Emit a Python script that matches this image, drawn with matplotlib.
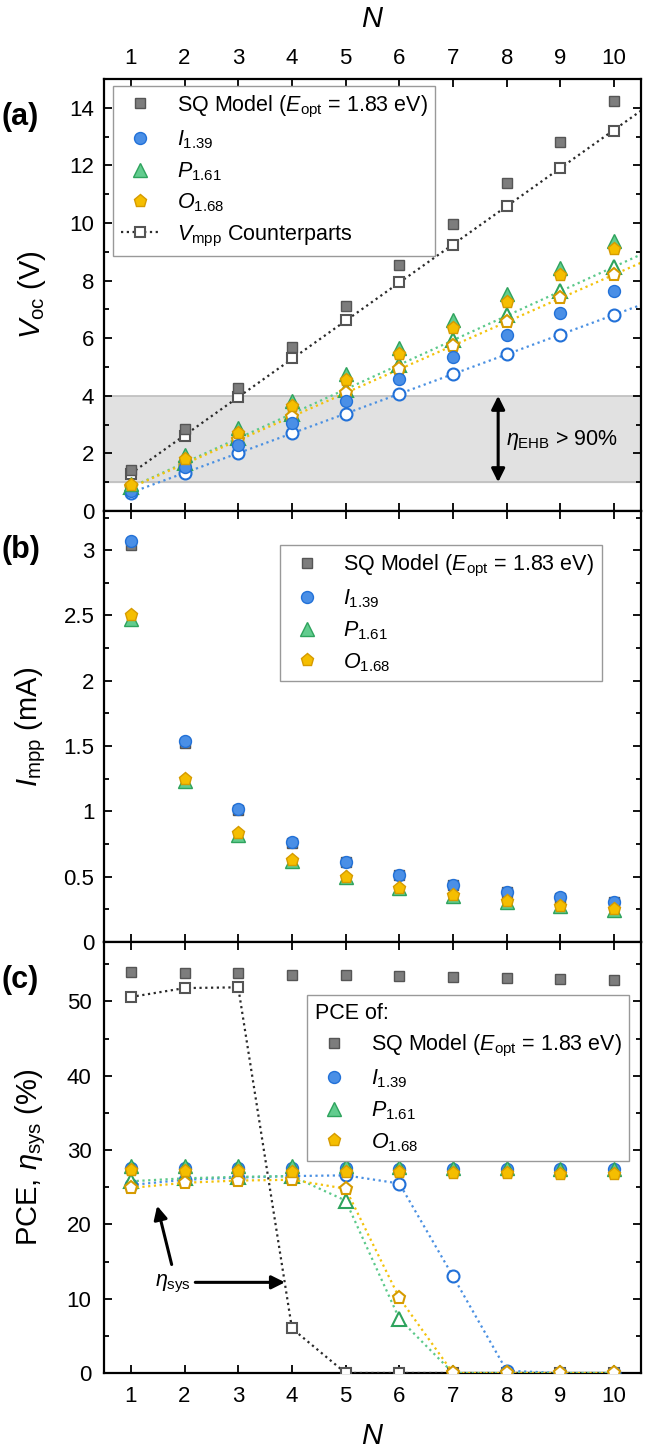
import matplotlib
matplotlib.use('Agg')
import matplotlib.pyplot as plt
from matplotlib.lines import Line2D
from matplotlib.ticker import MultipleLocator, FuncFormatter
import numpy as np

plt.rcParams['font.family'] = ['Liberation Sans', 'DejaVu Sans']
plt.rcParams['mathtext.fontset'] = 'custom'
plt.rcParams['mathtext.rm'] = 'Liberation Sans'
plt.rcParams['mathtext.it'] = 'Liberation Sans:italic'
plt.rcParams['mathtext.bf'] = 'Liberation Sans:bold'

# number of cells
N = [1, 2, 3, 4, 5, 6, 7, 8, 9, 10]

# (a) open-circuit voltage and V_mpp
voc_sq = [1.42, 2.84, 4.27, 5.70, 7.12, 8.55, 9.97, 11.39, 12.80, 14.22]
vmpp_sq = [1.27, 2.60, 3.97, 5.31, 6.63, 7.95, 9.25, 10.58, 11.92, 13.20]
voc_i = [0.69, 1.54, 2.30, 3.04, 3.81, 4.58, 5.35, 6.12, 6.89, 7.65]
vmpp_i = [0.62, 1.33, 2.02, 2.70, 3.38, 4.07, 4.76, 5.44, 6.12, 6.81]
voc_p = [0.95, 1.93, 2.88, 3.81, 4.74, 5.67, 6.62, 7.53, 8.45, 9.38]
vmpp_p = [0.84, 1.68, 2.52, 3.37, 4.21, 5.07, 5.93, 6.79, 7.64, 8.48]
voc_o = [0.92, 1.80, 2.71, 3.63, 4.54, 5.46, 6.35, 7.27, 8.20, 9.10]
vmpp_o = [0.82, 1.63, 2.45, 3.28, 4.09, 4.94, 5.73, 6.57, 7.39, 8.21]

# (b) current at maximum power point (mA)
impp_sq = [3.04, 1.52, 1.01, 0.76, 0.61, 0.51, 0.435, 0.38, 0.338, 0.304]
impp_i = [3.07, 1.537, 1.02, 0.767, 0.613, 0.511, 0.438, 0.383, 0.341, 0.307]
impp_p = [2.47, 1.235, 0.823, 0.617, 0.494, 0.412, 0.353, 0.309, 0.274, 0.247]
impp_o = [2.50, 1.25, 0.833, 0.625, 0.50, 0.417, 0.357, 0.312, 0.278, 0.25]

# (c) PCE and system efficiency (%)
pce_sq = [53.9, 53.8, 53.8, 53.6, 53.5, 53.4, 53.3, 53.2, 53.0, 52.9]
eta_sq = [50.6, 51.8, 51.9, 6.0, 0, 0, 0, 0, 0, 0]
pce_i = [27.6, 27.6, 27.6, 27.6, 27.6, 27.5, 27.5, 27.5, 27.4, 27.4]
pce_p = [27.9, 27.9, 27.9, 27.8, 27.8, 27.7, 27.6, 27.6, 27.5, 27.5]
pce_o = [27.3, 27.2, 27.2, 27.1, 27.1, 27.0, 26.9, 26.9, 26.8, 26.8]
eta_i = [25.3, 26.0, 26.3, 26.5, 26.6, 25.5, 13.0, 0.3, 0, 0]
eta_p = [25.8, 26.2, 26.4, 26.5, 23.2, 7.3, 0, 0, 0, 0]
eta_o = [24.9, 25.6, 25.9, 26.0, 24.8, 10.1, 0, 0, 0, 0]

lab_sq = r'SQ Model ($E_{\rm opt}$ = 1.83 eV)'
lab_i = r'$I_{\rm 1.39}$'
lab_p = r'$P_{\rm 1.61}$'
lab_o = r'$O_{\rm 1.68}$'

# colours: fill, edge, dotted line
c_sq = ('#7d7d7d', '#555555', '#2a2a2a')
c_i = ('#4a8fe6', '#2271d8', '#4a90e2')
c_p = ('#62cc8e', '#2ea35d', '#5cc98a')
c_o = ('#f5be00', '#d69b00', '#f3c20c')

series = [('s', 7.5, c_sq), ('o', 8.6, c_i), ('^', 9.5, c_p), ('p', 9.5, c_o)]
dots = (0, (1, 1.6))
leg_kw = dict(fontsize=15.5, fancybox=False, edgecolor='#999999', framealpha=1,
              labelspacing=0.42, handlelength=1.8, handletextpad=0.8,
              borderpad=0.35, borderaxespad=0)

fig = plt.figure(figsize=(6.46, 14.53), dpi=100)
L = 104 / 646
W = 537 / 646
ax_a = fig.add_axes([L, 1 - 511 / 1453, W, 432 / 1453])
ax_b = fig.add_axes([L, 1 - 942 / 1453, W, 431 / 1453])
ax_c = fig.add_axes([L, 1 - 1373 / 1453, W, 431 / 1453])

for ax in (ax_a, ax_b, ax_c):
    ax.set_xlim(0.5, 10.5)
    ax.xaxis.set_major_locator(MultipleLocator(1))
    ax.tick_params(which='both', direction='in', top=True, right=True,
                   width=1.3, labelsize=16, pad=7)
    ax.tick_params(which='major', length=6)
    ax.tick_params(which='minor', length=3.5)
    for s in ax.spines.values():
        s.set_linewidth(1.6)
    ax.yaxis.set_major_formatter(FuncFormatter(lambda v, p: '{:g}'.format(v)))
    ax.yaxis.set_label_coords(-0.105, 0.5)

# ---------------- (a)
ax = ax_a
ax.axhspan(1, 4, color='#e1e1e1', zorder=0)
ax.axhline(1, color='#bdbdbd', lw=1.2, zorder=0.5)
ax.axhline(4, color='#bdbdbd', lw=1.2, zorder=0.5)
xf = np.array([1, 10.5])
for vm, (m, ms, c) in zip([vmpp_sq, vmpp_i, vmpp_p, vmpp_o], series):
    k, b = np.polyfit(N, vm, 1)
    ax.plot(xf, k * xf + b, ls=dots, color=c[2], lw=1.6, zorder=2)
    ax.plot(N, vm, ls='none', marker=m, ms=ms, mfc='white', mec=c[1], mew=1.5, zorder=3)
for vo, lab, (m, ms, c) in zip([voc_sq, voc_i, voc_p, voc_o], [lab_sq, lab_i, lab_p, lab_o], series):
    ax.plot(N, vo, ls='none', marker=m, ms=ms, mfc=c[0], mec=c[1], mew=1, zorder=4, label=lab)
ax.set_ylim(0, 15)
ax.yaxis.set_major_locator(MultipleLocator(2))
ax.yaxis.set_minor_locator(MultipleLocator(1))
ax.tick_params(labeltop=True, labelbottom=False)
ax.xaxis.set_label_position('top')
ax.set_xlabel('$N$', fontsize=21, labelpad=15)
ax.set_ylabel(r'$V_{\rm oc}$ (V)', fontsize=21)
ax.annotate('', xy=(7.84, 1.0), xytext=(7.84, 4.0),
            arrowprops=dict(arrowstyle='<|-|>', color='black', lw=2.2,
                            mutation_scale=20, shrinkA=0, shrinkB=0))
ax.text(7.98, 2.45, r'$\eta_{\rm EHB}$ > 90%', fontsize=15.5, va='center')
h, l = ax.get_legend_handles_labels()
h.append(Line2D([], [], ls=dots, lw=1.6, color=c_sq[2], marker='s', ms=7.5,
                mfc='white', mec=c_sq[1], mew=1.5))
l.append(r'$V_{\rm mpp}$ Counterparts')
ax.legend(h, l, loc='upper left', bbox_to_anchor=(0.017, 0.984), **leg_kw)

# ---------------- (b)
ax = ax_b
for im, lab, (m, ms, c) in zip([impp_sq, impp_p, impp_i, impp_o], [lab_sq, lab_p, lab_i, lab_o],
                               [series[0], series[2], series[1], series[3]]):
    ax.plot(N, im, ls='none', marker=m, ms=ms, mfc=c[0], mec=c[1], mew=1, label=lab)
ax.set_ylim(0, 3.3)
ax.yaxis.set_major_locator(MultipleLocator(0.5))
ax.yaxis.set_minor_locator(MultipleLocator(0.25))
ax.tick_params(labelbottom=False)
ax.set_ylabel(r'$I_{\rm mpp}$ (mA)', fontsize=21)
h, l = ax.get_legend_handles_labels()
order = [0, 2, 1, 3]
ax.legend([h[i] for i in order], [l[i] for i in order], loc='upper right',
          bbox_to_anchor=(0.927, 0.921), **leg_kw)

# ---------------- (c)
ax = ax_c
for eta, (m, ms, c) in zip([eta_sq, eta_i, eta_p, eta_o], series):
    ax.plot(N, eta, ls=dots, lw=1.6, color=c[2], marker=m, ms=ms, mfc='white',
            mec=c[1], mew=1.5, zorder=3)
for pce, lab, (m, ms, c) in zip([pce_sq, pce_i, pce_p, pce_o], [lab_sq, lab_i, lab_p, lab_o], series):
    ax.plot(N, pce, ls='none', marker=m, ms=ms, mfc=c[0], mec=c[1], mew=1, zorder=4, label=lab)
ax.set_ylim(0, 58)
ax.yaxis.set_major_locator(MultipleLocator(10))
ax.yaxis.set_minor_locator(MultipleLocator(5))
ax.tick_params(pad=9)
ax.set_xlabel('$N$', fontsize=21, labelpad=11)
ax.set_ylabel(r'PCE, $\eta_{\rm sys}$ (%)', fontsize=21)
arr = dict(arrowstyle='-|>', color='black', lw=2.2, mutation_scale=20, shrinkA=0, shrinkB=0)
ax.annotate('', xy=(1.49, 22.5), xytext=(1.76, 14.6), arrowprops=arr)
ax.annotate('', xy=(3.87, 12.2), xytext=(2.2, 12.2), arrowprops=arr)
ax.text(1.45, 12.0, r'$\eta_{\rm sys}$', fontsize=15.5, va='center')
ax.legend(loc='upper right', bbox_to_anchor=(0.978, 0.877), title='PCE of:',
          title_fontsize=15.5, alignment='left', **leg_kw)

fig.text(0.003, 1 - 117 / 1453, '(a)', fontsize=22, fontweight='bold', va='center')
fig.text(0.003, 1 - 550 / 1453, '(b)', fontsize=22, fontweight='bold', va='center')
fig.text(0.003, 1 - 980 / 1453, '(c)', fontsize=22, fontweight='bold', va='center')

fig.savefig('out.png', dpi=100)
